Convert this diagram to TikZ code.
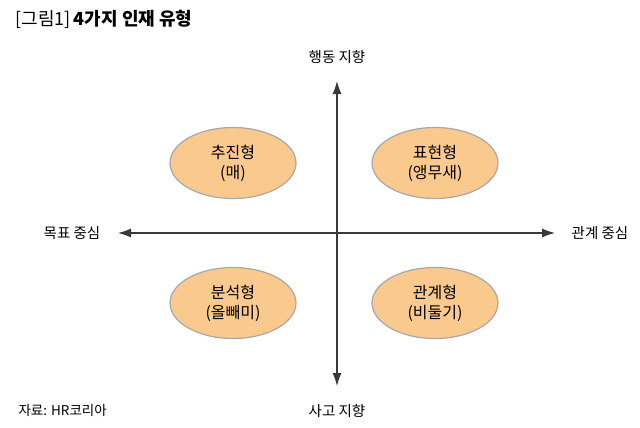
\documentclass[tikz,border=0pt]{standalone}
\usepackage{fontspec}
\setmainfont{Noto Sans CJK KR}
\usepackage{tikz}
\usetikzlibrary{arrows.meta,shapes.geometric}
\definecolor{peach}{HTML}{FAC98E}
\definecolor{rimgray}{HTML}{A8A8A8}
\definecolor{axisgray}{HTML}{3A3A3A}

\begin{document}
\begin{tikzpicture}[x=1pt, y=-1pt, >={Latex[length=13pt,width=9pt]},
  every node/.style={font=\fontsize{14.5}{16}\selectfont, align=center},
  type/.style={draw=rimgray, line width=1.2pt, fill=peach, ellipse, minimum width=126pt, minimum height=71pt, inner sep=0pt, font=\fontsize{16}{20}\selectfont},
  axis/.style={draw=axisgray, line width=1.1pt}]
\useasboundingbox (0,0) rectangle (640,428);
% title and source
\node (title) [anchor=west, font=\fontsize{18}{20}\selectfont] at (12,19) {[그림1]\,\textbf{4가지 인재 유형}};
\node (src) [anchor=west, font=\fontsize{13.5}{15}\selectfont] at (15,410) {자료: HR코리아};
% axis labels
\node (up) at (337,57) {행동 지향};
\node (down) at (337,411) {사고 지향};
\node (left) at (72,233) {목표 중심};
\node (right) at (600,233) {관계 중심};
\coordinate (ntip) at (337,81);
\coordinate (stip) at (337,386);
\coordinate (wtip) at (118,233);
\coordinate (etip) at (555,233);
\draw[axis, <->] (stip) -- (ntip);
\draw[axis, <->] (wtip) -- (etip);
% the four types
\node (drive) [type] at (233,163) {추진형\\(매)};
\node (express) [type] at (435,163) {표현형\\(앵무새)};
\node (analyse) [type] at (233,303) {분석형\\(올빼미)};
\node (relate) [type] at (435,303) {관계형\\(비둘기)};
\end{tikzpicture}
\end{document}
